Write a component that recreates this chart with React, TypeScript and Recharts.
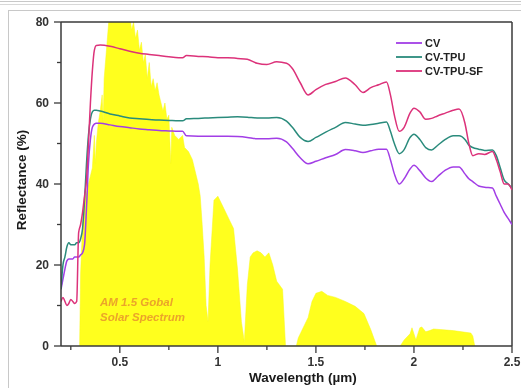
import { ComposedChart, Area, Line, XAxis, YAxis, ReferenceLine } from 'recharts';

// wavelength grid (µm) shared by the three reflectance curves
const reflWl = [
  0.2, 0.21, 0.22, 0.23, 0.24, 0.25, 0.26, 0.27, 0.28, 0.29, 0.3, 0.31, 0.32, 0.33, 0.34, 0.35, 0.36, 0.37, 0.38, 0.4,
  0.45, 0.5, 0.55, 0.6, 0.65, 0.7, 0.75, 0.8, 0.82, 0.84, 0.9, 0.95, 1.0, 1.05, 1.1, 1.15, 1.2, 1.25, 1.3, 1.35,
  1.38, 1.42, 1.46, 1.5, 1.55, 1.6, 1.65, 1.7, 1.74, 1.78, 1.82, 1.86, 1.88, 1.9, 1.925, 1.95, 1.98, 2.0, 2.03, 2.06,
  2.09, 2.12, 2.16, 2.2, 2.23, 2.26, 2.28, 2.3, 2.33, 2.36, 2.4, 2.42, 2.44, 2.46, 2.48, 2.5,
];

const cvRefl = [
  14, 16.5, 19, 21, 21.5, 21.5, 21.5, 22, 22, 22, 22.5, 23, 25, 34, 45, 51, 54, 54.8, 55, 55,
  54.6, 54.2, 53.9, 53.6, 53.4, 53.2, 53.1, 53, 53, 51.9, 51.8, 51.8, 51.8, 51.8, 51.7, 51.5, 51.2, 51.2, 51.3, 50.4,
  48.8, 46.5, 45, 45.6, 46.5, 47.3, 48.5, 48.2, 47.8, 48.2, 48.6, 48.6, 46, 42.5, 40, 41.3, 43.7, 44.6, 43.3, 41.5,
  40.6, 41.8, 43.4, 44.2, 44.2, 42.5, 41.3, 40.6, 39.5, 39.2, 39, 37, 35, 33, 31.5, 30,
];

const cvTpuRefl = [
  14, 20, 22, 24.5, 25.5, 25, 25, 25, 25.5, 25.5, 26.5, 29, 36, 45, 52, 56, 57.8, 58.2, 58.2, 58,
  57.3, 56.8, 56.3, 56.1, 55.9, 55.8, 55.7, 55.6, 55.6, 56.1, 56.2, 56.3, 56.4, 56.5, 56.6, 56.5, 56.3, 56.3, 56.4, 55.5,
  54, 51.5, 50.5, 51.5, 52.8, 54, 55.2, 54.8, 54.5, 54.7, 55, 55.3, 53, 50, 47.5, 48.5, 51.5, 52.3, 51, 49,
  48.4, 49.5, 51, 51.9, 51.9, 51, 49.6, 49, 48.6, 48.3, 48.4, 47, 44, 41, 40, 39,
];

const cvTpuSfRefl = [
  11, 12, 11, 10, 10.5, 11.5, 11, 10.5, 11, 28, 30, 33, 37, 41, 50, 60, 68, 73, 74.2, 74.3,
  74, 73.4, 72.8, 72.3, 72, 71.7, 71.4, 71.2, 71.2, 71.7, 71.5, 71.4, 71.2, 71.2, 71, 70.8, 69.8, 69.5, 70.2, 69.8,
  68.5, 65, 62, 63.3, 64.6, 65.3, 66.2, 64.5, 62.6, 63.8, 64.5, 65.2, 62, 57, 53, 54, 57.5, 58.7, 57.8, 56,
  56.2, 56.8, 57.5, 58.2, 58.5, 55, 50, 47, 47.5, 47.3, 48, 46, 43, 40, 40, 38.5,
];

// AM 1.5 global solar spectrum, drawn on the reflectance scale
const solarWl = [
  0.295, 0.3, 0.31, 0.32, 0.33, 0.34, 0.35, 0.36, 0.37, 0.375, 0.38, 0.39, 0.4, 0.41, 0.415, 0.42, 0.43, 0.44, 0.45, 0.46,
  0.48, 0.49, 0.5, 0.52, 0.53, 0.54, 0.55, 0.56, 0.57, 0.58, 0.59, 0.6, 0.61, 0.62, 0.63, 0.64, 0.65, 0.66, 0.67, 0.68,
  0.69, 0.7, 0.71, 0.72, 0.73, 0.74, 0.75, 0.76, 0.765, 0.78, 0.8, 0.82, 0.83, 0.85, 0.87, 0.89, 0.9, 0.91, 0.92, 0.93,
  0.94, 0.95, 0.96, 0.98, 1.0, 1.03, 1.06, 1.08, 1.1, 1.12, 1.135, 1.15, 1.165, 1.18, 1.2, 1.22, 1.24, 1.26, 1.28, 1.3,
  1.33, 1.345, 1.4, 1.41, 1.44, 1.46, 1.48, 1.5, 1.53, 1.56, 1.6, 1.65, 1.7, 1.745, 1.78, 1.81, 1.93, 1.95, 1.98, 1.99,
  2.01, 2.03, 2.04, 2.06, 2.08, 2.1, 2.2, 2.29, 2.3, 2.31,
];

const solarIrr = [
  0, 18, 30, 36, 38, 40, 42, 44, 52, 45, 50, 55, 58, 62, 55, 66, 72, 78, 84, 86,
  85, 83, 85, 82, 84, 80, 82, 78, 80, 76, 78, 73, 75, 70, 72, 66, 70, 64, 66, 63,
  65, 62, 60, 58, 60, 56, 57, 45, 54, 52, 51, 52, 49, 48, 46, 42, 40, 37, 30, 22,
  10, 6, 20, 36, 37, 34, 31, 29, 19, 6, 1, 15, 22, 23, 23.5, 23, 22, 23, 20, 16,
  14, 0, 0, 2, 5, 7, 11, 13, 13.5, 12.5, 12, 11, 9.8, 8, 4, 0, 0, 1.5, 3, 4.5,
  1.5, 4.5, 4.7, 3.5, 3.8, 4.2, 3.8, 3.2, 2.5, 0,
];

const xTicks = [0.25, 0.5, 0.75, 1, 1.25, 1.5, 1.75, 2, 2.25, 2.5];
const yTicks = [0, 10, 20, 30, 40, 50, 60, 70, 80];

const seriesNames = ['CV', 'CV-TPU', 'CV-TPU-SF'];
const seriesValues = [cvRefl, cvTpuRefl, cvTpuSfRefl];
const seriesColors = ['#a23ee6', '#2a8b7c', '#dc327a'];

const toPoints = (xs: number[], ys: number[]) => xs.map((wl, i) => ({ wl, v: ys[i] }));
const solar = toPoints(solarWl, solarIrr);

const FONT = '"Liberation Sans", Arial, sans-serif';
const AXIS = '#3a3a3a';

const isMajor = (v: number, step: number) => Math.abs(v / step - Math.round(v / step)) < 1e-6;

const XTick = (props: any) => {
  const { x, y, payload } = props;
  const major = isMajor(payload.value, 0.5);
  return (
    <g>
      <line x1={x} x2={x} y1={y} y2={y + (major ? 7 : 4)} stroke={AXIS} strokeWidth={1.3} />
      {major && (
        <text x={x} y={y + 20} textAnchor="middle" fontSize={12} fontWeight="bold" fill="#333" fontFamily={FONT}>
          {payload.value}
        </text>
      )}
    </g>
  );
};

const YTick = (props: any) => {
  const { x, y, payload } = props;
  const major = isMajor(payload.value, 20);
  return (
    <g>
      <line x1={x - (major ? 7 : 4)} x2={x} y1={y} y2={y} stroke={AXIS} strokeWidth={1.3} />
      {major && (
        <text x={x - 12} y={y + 4} textAnchor="end" fontSize={12} fontWeight="bold" fill="#333" fontFamily={FONT}>
          {payload.value}
        </text>
      )}
    </g>
  );
};

export default function App() {
  return (
    <div style={{ position: 'absolute', left: 0, top: 0, width: 521, height: 388, background: '#fff', overflow: 'hidden', fontFamily: FONT }}>
      {/* the spectrum is laid over the curves like a highlighter */}
      <style>{'.solar-area { mix-blend-mode: multiply; }'}</style>
      <div style={{ position: 'absolute', left: 0, top: 1, width: 521, height: 2, borderTop: '1px solid #c8c8c8', borderBottom: '1px solid #d8d8d8' }} />
      <div style={{ position: 'absolute', left: 8, top: 10, width: 540, height: 400, border: '1px solid #c8c8c8' }} />
      <ComposedChart width={521} height={388} margin={{ top: 22, right: 9, left: 0, bottom: 0 }}>
        <XAxis
          type="number"
          dataKey="wl"
          domain={[0.2, 2.5]}
          ticks={xTicks}
          interval={0}
          allowDataOverflow
          height={42}
          tickSize={0}
          tickMargin={0}
          tickLine={false}
          tick={<XTick />}
          stroke={AXIS}
          strokeWidth={1.5}
        />
        <YAxis
          type="number"
          domain={[0, 80]}
          ticks={yTicks}
          interval={0}
          allowDataOverflow
          width={61}
          tickSize={0}
          tickMargin={0}
          tickLine={false}
          tick={<YTick />}
          stroke={AXIS}
          strokeWidth={1.5}
        />
        <ReferenceLine y={80} stroke={AXIS} strokeWidth={1.5} />
        <ReferenceLine x={2.5} stroke={AXIS} strokeWidth={1.5} />
        {seriesNames.map((name, i) => (
          <Line
            key={name}
            name={name}
            data={toPoints(reflWl, seriesValues[i])}
            dataKey="v"
            type="monotone"
            stroke={seriesColors[i]}
            strokeWidth={1.5}
            dot={false}
            isAnimationActive={false}
          />
        ))}
        <Area
          className="solar-area"
          data={solar}
          dataKey="v"
          type="linear"
          fill="#ffff1e"
          fillOpacity={1}
          stroke="#f6f61a"
          strokeWidth={0.5}
          isAnimationActive={false}
        />
      </ComposedChart>

      {/* legend */}
      <div style={{ position: 'absolute', left: 396, top: 36 }}>
        {seriesNames.map((name, i) => (
          <div key={name} style={{ display: 'flex', alignItems: 'center', height: 14 }}>
            <svg width={26} height={4} style={{ marginRight: 3 }}>
              <line x1={0} x2={26} y1={2} y2={2} stroke={seriesColors[i]} strokeWidth={1.8} />
            </svg>
            <span style={{ fontSize: 11, fontWeight: 'bold', color: '#222' }}>{name}</span>
          </div>
        ))}
      </div>

      {/* spectrum note */}
      <div style={{ position: 'absolute', left: 100, top: 295, fontSize: 11.5, fontWeight: 'bold', fontStyle: 'italic', color: '#eba42a', lineHeight: '15px' }}>
        <div>AM 1.5 Gobal</div>
        <div>Solar Spectrum</div>
      </div>

      {/* axis titles */}
      <div style={{ position: 'absolute', left: 249, top: 370, fontSize: 13.5, fontWeight: 'bold', color: '#1a1a1a', whiteSpace: 'nowrap' }}>
        Wavelength (µm)
      </div>
      <div
        style={{
          position: 'absolute',
          left: 21,
          top: 180,
          transform: 'translate(-50%, -50%) rotate(-90deg)',
          fontSize: 13.5,
          fontWeight: 'bold',
          color: '#1a1a1a',
          whiteSpace: 'nowrap',
        }}
      >
        Reflectance (%)
      </div>
    </div>
  );
}
